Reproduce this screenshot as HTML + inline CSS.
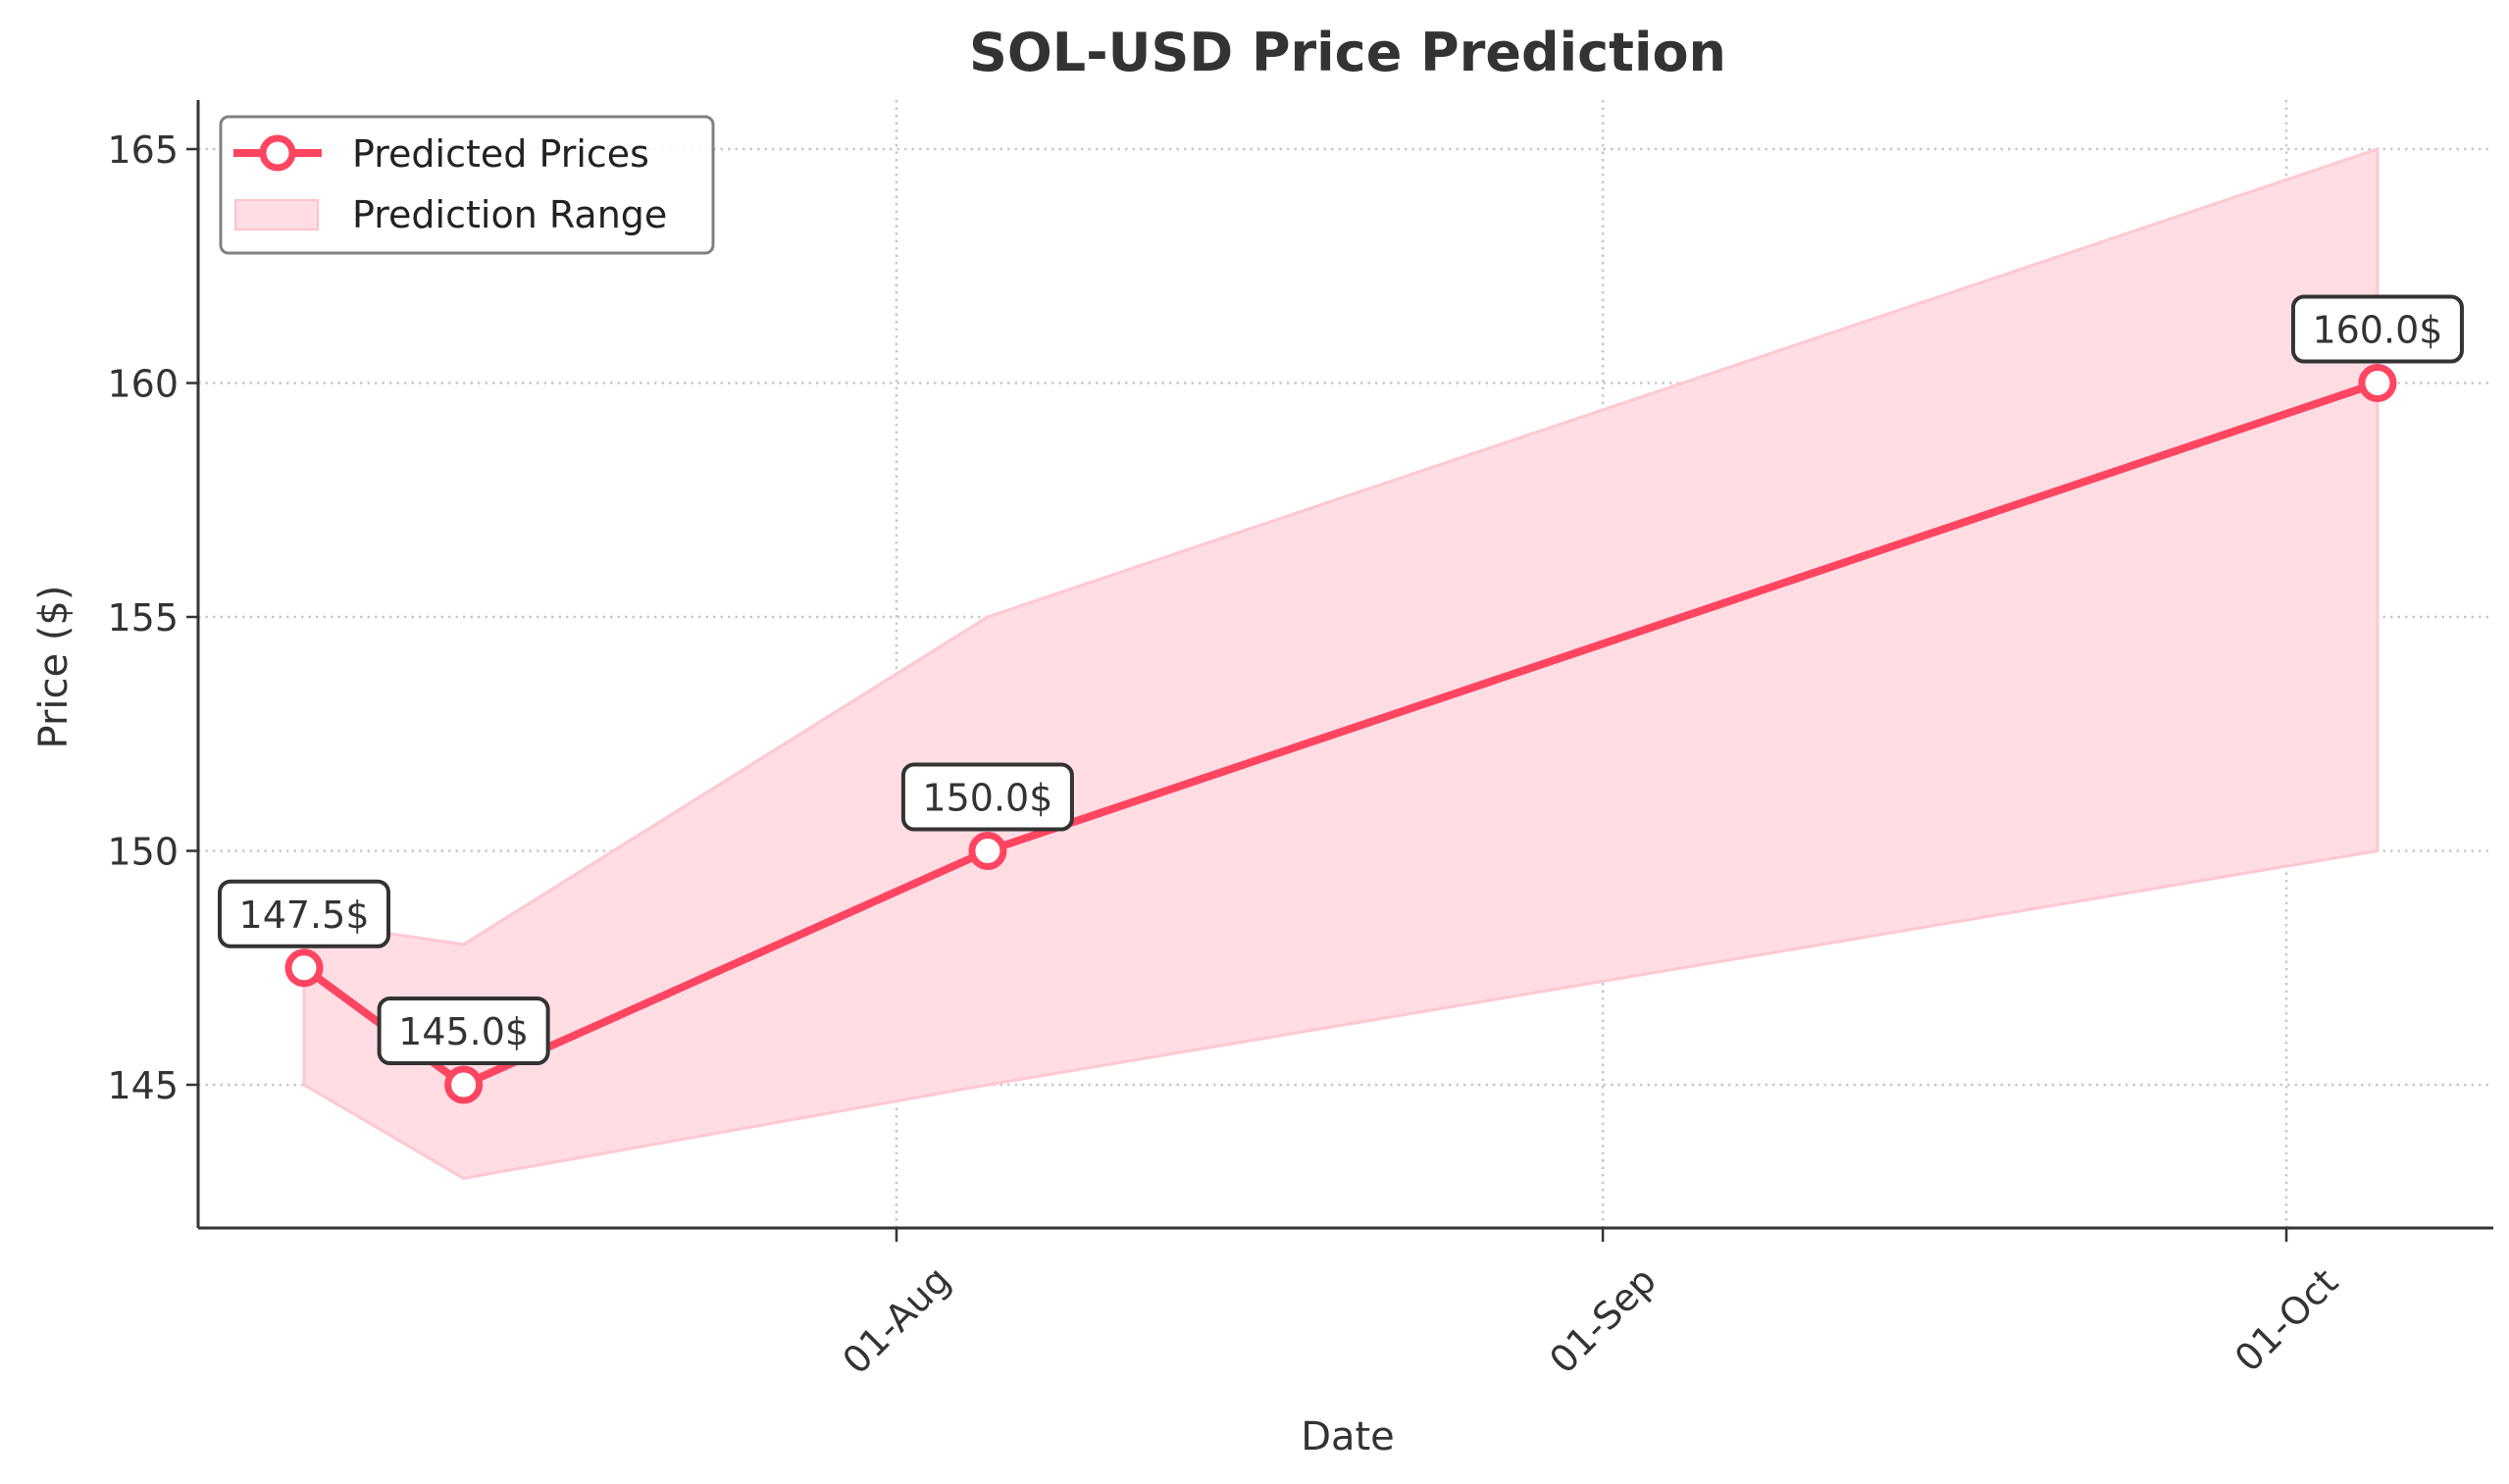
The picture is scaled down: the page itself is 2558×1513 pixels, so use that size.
<!DOCTYPE html>
<html><head><meta charset="utf-8"><style>
html,body{margin:0;padding:0;background:#fff;}
svg{display:block;font-family:"DejaVu Sans","Liberation Sans",sans-serif;}
</style></head><body>
<svg id="chart" width="2558" height="1513" viewBox="0 0 2558 1513">
<rect width="2558" height="1513" fill="#fff"/>
<text x="1374" y="72" text-anchor="middle" font-size="54" font-weight="bold" fill="#333">SOL-USD Price Prediction</text>
<g id="grid"></g>
<g id="band"></g>
<g id="series"></g>
<g id="axes"></g>
<text x="1374" y="1478" text-anchor="middle" font-size="40" fill="#333">Date</text>
<text transform="translate(68,680) rotate(-90)" text-anchor="middle" font-size="40" fill="#333">Price ($)</text>
<g>
<rect x="225" y="119" width="502" height="139" rx="8" fill="#fff" fill-opacity="0.85" stroke="#808080" stroke-width="3"/>
<line x1="238" y1="156" x2="328" y2="156" stroke="#ff4560" stroke-width="8"/>
<circle cx="283" cy="156" r="15" fill="#fff" stroke="#ff4560" stroke-width="7"/>
<text x="359" y="170" font-size="38" fill="#222">Predicted Prices</text>
<rect x="240" y="204" width="84" height="30" fill="#ffdde3" stroke="#ffc2cc" stroke-width="2"/>
<text x="359" y="232" font-size="38" fill="#222">Prediction Range</text>
</g>
</svg>
<script>
// data (days relative to 01-Aug)
const dayOffsets = [-26, -19, 4, 65];
const predicted = [147.5, 145.0, 150.0, 160.0];
const upperRange = [148.5, 148.0, 155.0, 165.0];
const lowerRange = [145.0, 143.0, 145.0, 150.0];
const yTicks = [145, 150, 155, 160, 165];
const xTickDays = [0, 31, 61];
const xTickLabels = ["01-Aug", "01-Sep", "01-Oct"];
const valueLabels = ["147.5$", "145.0$", "150.0$", "160.0$"];

const NS = "http://www.w3.org/2000/svg";
const L = 202, R = 2542, T = 102, B = 1252;
function xS(d){ return 914 + d * 23.23; }
function yS(v){ return 152 + (165 - v) * 47.7; }
function mk(tag, attrs, parent){ const e = document.createElementNS(NS, tag); for (const k in attrs) e.setAttribute(k, attrs[k]); parent.appendChild(e); return e; }

const grid = document.getElementById('grid');
const axes = document.getElementById('axes');
yTicks.forEach(function(v){
  const g = mk('line', {x1:L, x2:R, y1:yS(v), y2:yS(v), stroke:'#c8c8c8', 'stroke-width':2.5, 'stroke-dasharray':'2.5 5'}, grid);
  
  
  const t = mk('line', {x1:L-12, x2:L, y1:yS(v), y2:yS(v), stroke:'#333', 'stroke-width':2.5}, axes);
  
  
  const tx = mk('text', {x:L-20, y:yS(v)+14, 'text-anchor':'end', 'font-size':38, fill:'#333'}, axes);
  tx.textContent = String(v);
  
  
});
xTickDays.forEach(function(d, i){
  const x = xS(d);
  const g = mk('line', {x1:x, x2:x, y1:T, y2:B, stroke:'#c8c8c8', 'stroke-width':2.5, 'stroke-dasharray':'2.5 5'}, grid);
  
  
  const t = mk('line', {x1:x, x2:x, y1:B, y2:B+14, stroke:'#333', 'stroke-width':2.5}, axes);
  
  
  const tx = mk('text', {x:0, y:0, 'text-anchor':'middle', 'dominant-baseline':'central', 'font-size':38, fill:'#333', transform:'translate('+x+',1346) rotate(-45)'}, axes);
  tx.textContent = xTickLabels[i];
  
  
});
const sp1 = mk('line', {x1:L, x2:L, y1:T, y2:B, stroke:'#333', 'stroke-width':3}, axes);


const sp2 = mk('line', {x1:L, x2:R, y1:B, y2:B, stroke:'#333', 'stroke-width':3}, axes);



// band
const band = document.getElementById('band');
let pts = [];
dayOffsets.forEach(function(d, i){ pts.push(xS(d) + ',' + yS(upperRange[i])); });
for (let i = dayOffsets.length - 1; i >= 0; i--) pts.push(xS(dayOffsets[i]) + ',' + yS(lowerRange[i]));
const poly = mk('polygon', {points: pts.join(' '), fill:'#ffdde3', stroke:'#ffc8d1', 'stroke-width':3}, band);



// line
const series = document.getElementById('series');
const lp = dayOffsets.map(function(d, i){ return xS(d) + ',' + yS(predicted[i]); }).join(' ');
const pl = mk('polyline', {points: lp, fill:'none', stroke:'#ff4560', 'stroke-width':8, 'stroke-linejoin':'round'}, series);


dayOffsets.forEach(function(d, i){
  const cx = xS(d), cy = yS(predicted[i]);
  const c = mk('circle', {cx:cx, cy:cy, r:16, fill:'#fff', stroke:'#ff4560', 'stroke-width':7}, series);
  
  
  const g = mk('g', {}, series);
  
  
  mk('rect', {x:cx-86, y:cy-88, width:172, height:66, rx:11, fill:'#fff', stroke:'#333', 'stroke-width':4}, g);
  const t = mk('text', {x:cx, y:cy-41, 'text-anchor':'middle', 'font-size':38, fill:'#333'}, g);
  t.textContent = valueLabels[i];
});
</script>
</body></html>
